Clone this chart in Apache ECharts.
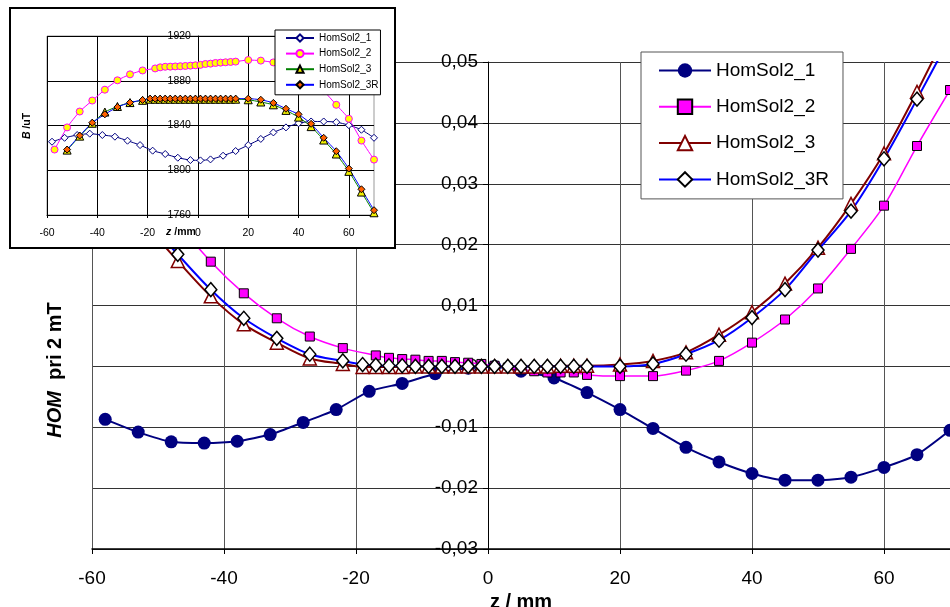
<!DOCTYPE html>
<html><head><meta charset="utf-8">
<script src="https://cdn.jsdelivr.net/npm/echarts@6/dist/echarts.min.js"></script>
<style>html,body{margin:0;padding:0;background:#fff}#c{width:950px;height:607px}</style>
</head><body><div id="c"></div>
<script>
// ---------- data ----------
const seriesNames = ['HomSol2_1', 'HomSol2_2', 'HomSol2_3', 'HomSol2_3R'];

// main chart: HOM at 2 mT vs z / mm
const z1 = [-58,-53,-48,-43,-38,-33,-28,-23,-18,-13,-8,-3,1,5,10,15,20,25,30,35,40,45,50,55,60,65,70];
const hom1 = [-0.0087,-0.0108,-0.0124,-0.0126,-0.0123,-0.0112,-0.0092,-0.0071,-0.0041,-0.0028,-0.0012,-0.0003,0.0000,-0.0008,-0.0019,-0.0043,-0.0071,-0.0102,-0.0133,-0.0157,-0.0176,-0.0187,-0.0187,-0.0182,-0.0166,-0.0145,-0.0105];

const z2 = [-57,-52,-47,-42,-37,-32,-27,-22,-17,-15,-13,-11,-9,-7,-5,-3,-1,1,3,5,7,9,11,13,15,20,25,30,35,40,45,50,55,60,65,70];
const hom2 = [0.0400,0.0310,0.0235,0.0172,0.0120,0.0079,0.0049,0.0030,0.0018,0.0014,0.0012,0.0011,0.0009,0.0009,0.0007,0.0006,0.0004,0.0001,-0.0002,-0.0005,-0.0008,-0.0010,-0.0010,-0.0010,-0.0014,-0.0016,-0.0016,-0.0007,0.0009,0.0039,0.0077,0.0128,0.0193,0.0264,0.0362,0.0454];

const z3 = [-52,-47,-42,-37,-32,-27,-22,-19,-17,-15,-13,-11,-9,-7,-5,-3,-1,1,3,5,7,9,11,13,15,20,25,30,35,40,45,50,55,60,65,70];
const hom3 = [0.0235,0.0173,0.0115,0.0069,0.0039,0.0013,0.0004,-0.0001,-0.0001,-0.0001,-0.0001,0,0,0,0,0,0,0,0,0,0,0,0.0001,0.0001,0.0001,0.0003,0.0009,0.0023,0.0052,0.0089,0.0136,0.0195,0.0267,0.0350,0.0451,0.0560];
const hom3R = [0.0245,0.0184,0.0126,0.0079,0.0046,0.0020,0.0009,0.0003,0.0002,0.0001,0.0001,0,0,0,0,0,0,0,0,0,0,0,0,0,0,0.0000,0.0004,0.0020,0.0043,0.0080,0.0126,0.0191,0.0255,0.0341,0.0439,0.0540];

// inset: B / uT vs z / mm
const bIn1 = [1825.5,1829,1831.5,1832.7,1831.5,1830,1826.4,1822.5,1817.5,1814.5,1811.2,1809.1,1808.8,1809.7,1813,1817.2,1822.5,1828,1833.8,1838.3,1842,1843.6,1843.6,1843,1840.3,1836.2,1829];
const bIn2 = [1818.5,1838.3,1852.5,1862.3,1872,1880.4,1885.7,1889.2,1891,1892,1892.5,1892.6,1892.8,1893,1893.2,1893.5,1893.8,1894.2,1895,1895.3,1895.9,1896.2,1896.5,1896.8,1897.1,1898.5,1898,1896.4,1894,1889.5,1882,1871,1858.5,1846,1826.5,1809.5];
const bIn3 = [1818,1830.5,1842,1852,1857,1860.5,1862.5,1863.5,1863.5,1863.5,1863.5,1863.5,1863.5,1863.5,1863.5,1863.5,1863.5,1863.5,1863.5,1863.5,1863.5,1863.5,1863.5,1863.5,1863.5,1863,1861,1858.5,1853.5,1847.5,1839,1827,1814.5,1799,1780.5,1762];
const bIn3R = [1818.5,1831,1842.5,1850,1856.5,1860.5,1862.8,1864,1864,1864,1864,1864,1864,1864,1864,1864,1864,1864,1864,1864,1864,1864,1864,1864,1864,1864,1863,1860.2,1855,1850,1841.5,1829,1817,1801.5,1783,1764.3];

// axis ranges
const mainX = {min: -60, max: 70, interval: 20};
const mainY = {min: -0.03, max: 0.05, interval: 0.01};
const inX = {min: -60, max: 70, interval: 20};
const inY = {min: 1760, max: 1920, interval: 40};

// ---------- chart ----------
const FF = 'Liberation Sans, Arial, sans-serif';
const zip = (xs, ys) => xs.map((x, i) => [x, ys[i]]);
const inName = n => 'inset:' + n;

const mainGrid = {left: 92, top: 62, width: 858, height: 487};
const inGrid = {left: 47, top: 36, width: 327, height: 179};
// y axes cross the x axis at z = 0 (shift from the grid's left edge)
const zeroShift = (ax, w) => -(0 - ax.min) / (ax.max - ax.min) * w;

const chart = echarts.init(document.getElementById('c'), null, {renderer: 'canvas'});

const option = {
  animation: false,
  backgroundColor: '#fff',
  textStyle: {fontFamily: FF, color: '#000'},
  grid: [
    Object.assign({show: false, outerBoundsMode: 'none', containLabel: false}, mainGrid),
    Object.assign({show: true, backgroundColor: '#fff', borderColor: '#999', borderWidth: 1, z: 11,
                   outerBoundsMode: 'none', containLabel: false}, inGrid)
  ],
  xAxis: [
    {type: 'value', gridIndex: 0, min: mainX.min, max: mainX.max, interval: mainX.interval,
     axisLine: {onZero: false, lineStyle: {color: '#000', width: 1.5}},
     axisTick: {show: true, length: 5, lineStyle: {color: '#000'}},
     axisLabel: {fontSize: 19, color: '#000', margin: 20, showMaxLabel: false, fontFamily: FF},
     splitLine: {show: true, lineStyle: {color: '#555', width: 1}},
     name: 'z / mm', nameLocation: 'middle', nameGap: 34,
     nameTextStyle: {fontSize: 20, fontWeight: 'bold', color: '#000', fontFamily: FF}},
    {type: 'value', gridIndex: 1, min: inX.min, max: inX.max, interval: inX.interval, z: 12,
     axisLine: {onZero: false, lineStyle: {color: '#000', width: 1}},
     axisTick: {show: true, length: 3, lineStyle: {color: '#000'}},
     axisLabel: {fontSize: 10.5, color: '#000', margin: 13, showMaxLabel: false, fontFamily: FF},
     splitLine: {show: true, showMaxLine: false, lineStyle: {color: '#000', width: 1}}}
  ],
  yAxis: [
    {type: 'value', gridIndex: 0, min: mainY.min, max: mainY.max, interval: mainY.interval,
     position: 'left', offset: zeroShift(mainX, mainGrid.width),
     axisLine: {show: true, onZero: false, lineStyle: {color: '#000', width: 1}},
     axisTick: {show: true, length: 5, lineStyle: {color: '#000'}},
     axisLabel: {fontSize: 19, color: '#000', margin: 10, fontFamily: FF,
       formatter: v => Math.abs(v) < 1e-9 ? '0' : v.toFixed(2).replace('.', ',')},
     splitLine: {show: true, lineStyle: {color: '#333', width: 1}}},
    {type: 'value', gridIndex: 1, min: inY.min, max: inY.max, interval: inY.interval, z: 12,
     position: 'left', offset: zeroShift(inX, inGrid.width),
     axisLine: {show: true, onZero: false, lineStyle: {color: '#000', width: 1}},
     axisTick: {show: true, length: 3, lineStyle: {color: '#000'}},
     axisLabel: {fontSize: 10.5, color: '#000', margin: 7, fontFamily: FF, formatter: v => String(v)},
     splitLine: {show: true, lineStyle: {color: '#000', width: 1}}}
  ],
  legend: [
    {data: seriesNames, orient: 'vertical', left: 641, top: 52,
     itemWidth: 52, itemHeight: 18, itemGap: 17.3, padding: [9, 14, 10, 17],
     borderColor: '#555', borderWidth: 1, backgroundColor: '#fff',
     textStyle: {fontSize: 19, color: '#000', fontFamily: FF}, selectedMode: false, z: 4},
    {data: seriesNames.map(inName), orient: 'vertical', left: 275, top: 30,
     itemWidth: 28, itemHeight: 9, itemGap: 5.6, padding: [3, 2, 5, 10],
     borderColor: '#000', borderWidth: 1, backgroundColor: '#fff',
     formatter: n => n.replace('inset:', ''),
     textStyle: {fontSize: 10, color: '#000', fontFamily: FF}, selectedMode: false, z: 14}
  ],
  graphic: {elements: [
    {type: 'rect', shape: {x: 10, y: 8, width: 385, height: 240}, silent: true, z: 10,
     style: {fill: '#fff', stroke: '#000', lineWidth: 2}},
    {type: 'text', x: 55, y: 370, rotation: Math.PI / 2, silent: true, z: 1,
     style: {text: '{i|HOM}{b|  pri 2 mT}', align: 'center', verticalAlign: 'middle', fill: '#000',
       rich: {i: {fontStyle: 'italic', fontWeight: 'bold', fontSize: 20, fontFamily: FF},
              b: {fontWeight: 'bold', fontSize: 20, fontFamily: FF}}}},
    {type: 'text', x: 27, y: 126, rotation: Math.PI / 2, silent: true, z: 15,
     style: {text: '{i|B}{b| /uT}', align: 'center', verticalAlign: 'middle', fill: '#000',
       rich: {i: {fontStyle: 'italic', fontWeight: 'bold', fontSize: 10.5, fontFamily: FF},
              b: {fontWeight: 'bold', fontSize: 10.5, fontFamily: FF}}}},
    {type: 'text', x: 181, y: 232, silent: true, z: 15,
     style: {text: '{i|z}{b| /mm}', align: 'center', verticalAlign: 'middle', fill: '#000',
       rich: {i: {fontStyle: 'italic', fontWeight: 'bold', fontSize: 10.5, fontFamily: FF},
              b: {fontWeight: 'bold', fontSize: 10.5, fontFamily: FF}}}}
  ]},
  series: [
    {name: 'HomSol2_1', type: 'line', xAxisIndex: 0, yAxisIndex: 0, data: zip(z1, hom1),
     smooth: 0.2, symbol: 'circle', symbolSize: 13, z: 2,
     lineStyle: {color: '#000080', width: 2}, itemStyle: {color: '#000080'}},
    {name: 'HomSol2_2', type: 'line', xAxisIndex: 0, yAxisIndex: 0, data: zip(z2, hom2),
     smooth: 0.3, symbol: 'rect', symbolSize: 9, z: 2,
     lineStyle: {color: '#ff00ff', width: 1.5}, itemStyle: {color: '#ff00ff', borderColor: '#000', borderWidth: 1}},
    {name: 'HomSol2_3', type: 'line', xAxisIndex: 0, yAxisIndex: 0, data: zip(z3, hom3),
     smooth: 0.3, symbol: 'triangle', symbolSize: 13, z: 2,
     lineStyle: {color: '#800000', width: 2}, itemStyle: {color: '#fff', borderColor: '#800000', borderWidth: 1.5}},
    {name: 'HomSol2_3R', type: 'line', xAxisIndex: 0, yAxisIndex: 0, data: zip(z3, hom3R),
     smooth: 0.3, symbol: 'diamond', symbolSize: [12, 14], z: 2,
     lineStyle: {color: '#0000ff', width: 2}, itemStyle: {color: '#fff', borderColor: '#000', borderWidth: 1.5}},

    {name: inName('HomSol2_1'), type: 'line', xAxisIndex: 1, yAxisIndex: 1, data: zip(z1, bIn1),
     smooth: 0.2, symbol: 'diamond', symbolSize: 7, z: 13,
     lineStyle: {color: '#000080', width: 1}, itemStyle: {color: '#fff', borderColor: '#000080', borderWidth: 1}},
    {name: inName('HomSol2_2'), type: 'line', xAxisIndex: 1, yAxisIndex: 1, data: zip(z2, bIn2),
     smooth: 0.2, symbol: 'circle', symbolSize: 7, z: 13,
     lineStyle: {color: '#ff00ff', width: 1}, itemStyle: {color: '#ffff00', borderColor: '#ff00ff', borderWidth: 1}},
    {name: inName('HomSol2_3'), type: 'line', xAxisIndex: 1, yAxisIndex: 1, data: zip(z3, bIn3),
     smooth: 0.2, symbol: 'triangle', symbolSize: 8, z: 13,
     lineStyle: {color: '#008000', width: 1}, itemStyle: {color: '#f0f000', borderColor: '#000', borderWidth: 1}},
    {name: inName('HomSol2_3R'), type: 'line', xAxisIndex: 1, yAxisIndex: 1, data: zip(z3, bIn3R),
     smooth: 0.2, symbol: 'diamond', symbolSize: 7, z: 13,
     lineStyle: {color: '#0000ff', width: 1}, itemStyle: {color: '#ff6000', borderColor: '#000', borderWidth: 1}}
  ]
};
chart.setOption(option);
</script></body></html>
